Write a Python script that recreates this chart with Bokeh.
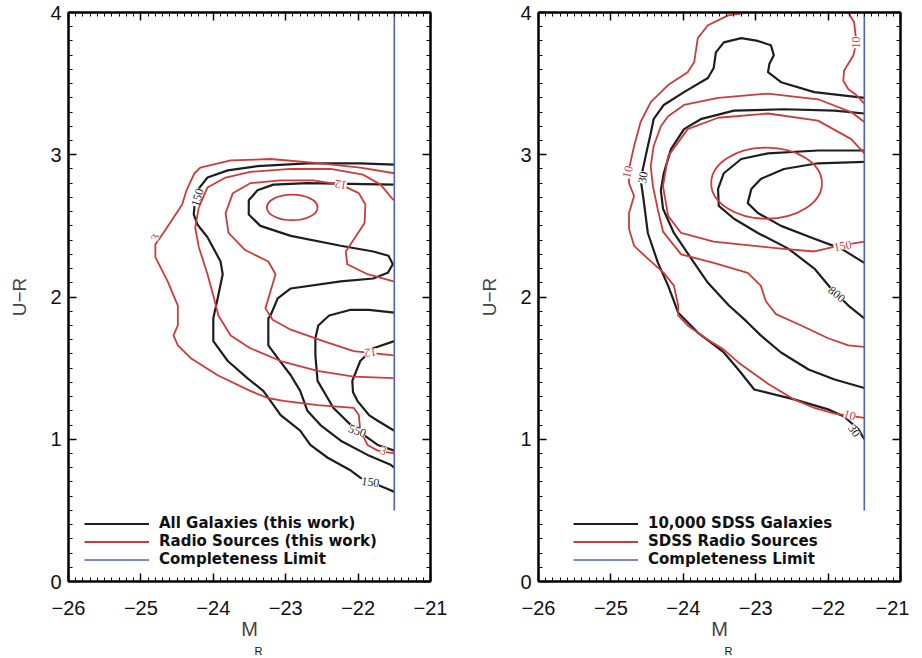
from bokeh.plotting import figure
from bokeh.models import (Range1d, LinearAxis, SingleIntervalTicker, Legend, LegendItem,
                          LabelSet, Title, ColumnDataSource, CustomLabelingPolicy)
from bokeh.layouts import row
from bokeh.embed import file_html
from bokeh.resources import INLINE

# ---------------- data: left panel (this work) ----------------
# all galaxies (black contours)
LG150_X = [-21.50,-21.97,-22.70,-23.39,-23.80,-24.08,-24.22,-24.25,-24.27,-24.22,-24.08,-23.90,-23.87,-23.94,-24.00,-24.00,-23.80,-23.53,-23.31,-23.21,-23.07,-22.80,-22.66,-22.42,-22.10,-21.97,-21.59,-21.50]
LG150_Y = [2.93,2.94,2.94,2.92,2.89,2.84,2.75,2.70,2.58,2.51,2.42,2.25,2.16,1.99,1.85,1.69,1.55,1.43,1.34,1.27,1.17,1.06,0.96,0.87,0.78,0.73,0.65,0.63]
LG350_X = [-21.51,-22.70,-23.17,-23.39,-23.51,-23.51,-23.35,-22.93,-22.24,-21.79,-21.58,-21.52,-21.59,-21.79,-22.24,-22.93,-23.11,-23.21,-23.24,-23.24,-23.11,-22.93,-22.80,-22.70,-22.52,-22.24,-21.87,-21.55,-21.50]
LG350_Y = [2.79,2.80,2.79,2.75,2.68,2.58,2.50,2.43,2.36,2.32,2.29,2.23,2.17,2.13,2.11,2.06,1.99,1.87,1.85,1.66,1.57,1.45,1.34,1.20,1.10,0.99,0.89,0.82,0.80]
LG550_X = [-21.50,-21.85,-22.10,-22.40,-22.55,-22.59,-22.59,-22.56,-22.34,-22.06,-21.73,-21.50]
LG550_Y = [1.89,1.91,1.91,1.87,1.80,1.71,1.59,1.41,1.22,1.08,0.96,0.92]
LG750_X = [-21.50,-21.79,-21.97,-22.08,-22.07,-22.01,-21.85,-21.73,-21.50]
LG750_Y = [1.69,1.64,1.55,1.41,1.33,1.27,1.17,1.13,1.06]
# radio sources (red contours)
LR3_X = [-21.50,-21.97,-22.52,-23.21,-23.76,-24.18,-24.26,-24.37,-24.43,-24.69,-24.80,-24.80,-24.63,-24.49,-24.49,-24.55,-24.49,-24.31,-23.94,-23.49,-23.25,-23.03,-22.56,-22.06,-21.99,-21.97,-21.87,-21.73,-21.50]
LR3_Y = [2.87,2.91,2.94,2.97,2.96,2.91,2.87,2.75,2.65,2.45,2.37,2.28,2.11,1.94,1.80,1.73,1.66,1.57,1.45,1.34,1.29,1.27,1.24,1.22,1.17,1.06,0.96,0.92,0.90]
LR6_X = [-21.51,-21.69,-21.93,-22.38,-22.93,-23.49,-23.83,-24.08,-24.20,-24.25,-24.20,-24.08,-24.00,-23.93,-23.76,-23.49,-23.07,-22.56,-22.06,-21.51]
LR6_Y = [2.68,2.79,2.86,2.90,2.90,2.88,2.84,2.77,2.63,2.49,2.35,2.16,2.01,1.87,1.73,1.64,1.55,1.48,1.44,1.43]
LR12_X = [-21.51,-21.87,-22.15,-22.17,-22.04,-21.91,-21.90,-21.99,-22.24,-22.62,-23.07,-23.49,-23.73,-23.83,-23.79,-23.56,-23.24,-23.14,-23.21,-23.28,-23.18,-22.93,-22.48,-22.06,-21.51]
LR12_Y = [2.11,2.16,2.23,2.32,2.42,2.52,2.65,2.73,2.79,2.82,2.82,2.80,2.73,2.59,2.45,2.33,2.25,2.16,2.04,1.92,1.84,1.77,1.69,1.62,1.59]
LR_PEAK = dict(x=[-22.91], y=[2.63], w=[0.70], h=[0.18])
# contour labels
LL_TEXT = ["150", "12", "3", "12", "550", "3", "150"]
LL_X = [-24.22, -22.24, -24.80, -21.83, -22.01, -21.65, -21.83]
LL_Y = [2.70, 2.79, 2.42, 1.61, 1.06, 0.92, 0.70]
LL_ANGLE = [72, 170, 70, 185, -20, -15, -8]
LL_KIND = ["g", "r", "r", "r", "g", "r", "g"]

# ---------------- data: right panel (SDSS) ----------------
RG30_X = [-21.50,-22.19,-22.65,-22.83,-22.81,-22.75,-22.79,-22.97,-23.20,-23.44,-23.55,-23.58,-23.66,-23.99,-24.27,-24.41,-24.45,-24.49,-24.55,-24.59,-24.55,-24.52,-24.49,-24.35,-24.21,-24.07,-23.80,-23.44,-23.24,-23.02,-22.47,-22.00,-21.78,-21.58,-21.50]
RG30_Y = [3.40,3.44,3.51,3.58,3.64,3.70,3.77,3.80,3.82,3.79,3.72,3.61,3.54,3.44,3.35,3.25,3.15,3.06,2.92,2.83,2.69,2.57,2.45,2.24,2.08,1.89,1.75,1.61,1.49,1.35,1.28,1.21,1.16,1.07,1.00]
RG150_X = [-21.50,-21.91,-22.61,-23.30,-23.76,-23.99,-24.17,-24.27,-24.31,-24.28,-24.13,-23.89,-23.66,-23.37,-23.13,-22.93,-22.65,-22.27,-21.91,-21.50]
RG150_Y = [3.29,3.31,3.32,3.31,3.25,3.18,3.04,2.87,2.75,2.62,2.45,2.27,2.10,1.94,1.83,1.73,1.61,1.49,1.42,1.36]
RG800_X = [-21.50,-22.14,-22.83,-23.20,-23.44,-23.52,-23.51,-23.30,-22.97,-22.55,-22.19,-21.96,-21.72,-21.50]
RG800_Y = [3.03,3.03,3.01,2.97,2.87,2.76,2.64,2.55,2.45,2.34,2.20,2.06,1.94,1.85]
RG1500_X = [-21.50,-22.14,-22.61,-22.93,-23.06,-23.11,-22.97,-22.65,-22.19,-21.82,-21.50]
RG1500_Y = [2.95,2.94,2.90,2.83,2.76,2.66,2.59,2.50,2.41,2.34,2.24]
RR10A_X = [-23.11,-23.38,-23.66,-23.80,-23.85,-23.94,-24.21,-24.45,-24.59,-24.68,-24.75,-24.75,-24.68,-24.75,-24.75,-24.68,-24.49,-24.27,-24.13,-24.07,-24.07,-23.94,-23.66,-23.44,-23.24,-22.83,-22.47,-22.19,-21.91,-21.50]
RR10A_Y = [4.00,3.98,3.91,3.82,3.65,3.58,3.49,3.37,3.23,3.06,2.90,2.80,2.71,2.59,2.48,2.36,2.27,2.17,2.08,1.94,1.87,1.80,1.70,1.63,1.54,1.39,1.28,1.22,1.18,1.15]
RR10B_X = [-21.72,-21.64,-21.61,-21.65,-21.78,-21.79,-21.72,-21.61,-21.50]
RR10B_Y = [4.00,3.93,3.79,3.70,3.59,3.52,3.46,3.42,3.36]
RR50_X = [-21.50,-21.68,-22.14,-22.83,-23.52,-23.99,-24.21,-24.31,-24.41,-24.45,-24.42,-24.35,-24.28,-24.03,-23.58,-23.11,-22.93,-22.86,-22.72,-22.37,-22.00,-21.72,-21.50]
RR50_Y = [3.23,3.30,3.39,3.43,3.40,3.35,3.27,3.20,3.06,2.92,2.78,2.61,2.46,2.30,2.24,2.17,2.08,1.97,1.88,1.80,1.71,1.66,1.65]
RR150_X = [-21.50,-21.68,-22.14,-22.83,-23.52,-23.94,-24.21,-24.28,-24.21,-24.03,-23.58,-22.65,-22.19,-21.86,-21.50]
RR150_Y = [3.01,3.11,3.24,3.29,3.26,3.18,2.99,2.78,2.57,2.45,2.39,2.34,2.32,2.36,2.39]
RR_PEAK = dict(x=[-22.85], y=[2.80], w=[1.53], h=[0.50])
RL_TEXT = ["10", "30", "10", "150", "800", "10", "30"]
RL_X = [-24.77, -24.56, -21.62, -21.80, -21.88, -21.70, -21.64]
RL_Y = [2.88, 2.84, 3.79, 2.36, 2.02, 1.17, 1.06]
RL_ANGLE = [75, 80, 90, 10, -40, -15, -55]
RL_KIND = ["r", "g", "r", "r", "g", "r", "g"]

# completeness limit
LIMIT_X = [-21.5, -21.5]
LIMIT_Y = [0.5, 4.0]

X_TICKS = [-26, -25, -24, -23, -22, -21]

BLACK = "#1e1e1e"
RED = "#cf3a3a"
BLUE = "#4f5fc4"
TICK_FONT = "Liberation Sans"


def style_ticks(ax):
    ax.axis_line_width = 2
    ax.major_tick_in = 8
    ax.major_tick_out = 0
    ax.minor_tick_in = 4
    ax.minor_tick_out = 0
    ax.major_tick_line_width = 1.5


def make_panel(gal, rad, peak, lab, legend_names, left_border, right_border, legend_x):
    p = figure(x_range=Range1d(-26, -21), y_range=Range1d(0, 4),
               frame_width=362, frame_height=569,
               min_border_left=left_border, min_border_right=right_border,
               min_border_top=12, min_border_bottom=60,
               output_backend="svg", toolbar_location=None)
    p.xgrid.visible = False
    p.ygrid.visible = False
    p.background_fill_color = "white"
    p.border_fill_color = "white"
    p.outline_line_color = "black"
    p.outline_line_width = 2

    for ax in (p.xaxis[0], p.yaxis[0]):
        style_ticks(ax)
        ax.major_label_text_font = TICK_FONT
        ax.major_label_text_font_size = "20px"
        ax.major_label_text_color = "#111111"
    p.xaxis[0].ticker = SingleIntervalTicker(interval=1, num_minor_ticks=10)
    p.yaxis[0].ticker = SingleIntervalTicker(interval=1, num_minor_ticks=10)
    p.xaxis[0].major_label_overrides = {t: "\u2212" + str(-t) for t in X_TICKS}
    p.xaxis[0].major_label_standoff = 19
    p.xaxis[0].axis_label = "M"
    p.xaxis[0].axis_label_text_font = TICK_FONT
    p.xaxis[0].axis_label_text_font_style = "normal"
    p.xaxis[0].axis_label_text_font_size = "20px"
    p.xaxis[0].axis_label_text_line_height = 1.0
    p.xaxis[0].axis_label_standoff = 0
    p.yaxis[0].major_label_standoff = 7
    p.yaxis[0].axis_label = "U\u2212R"
    p.yaxis[0].axis_label_text_font = TICK_FONT
    p.yaxis[0].axis_label_text_font_style = "normal"
    p.yaxis[0].axis_label_text_font_size = "19px"
    p.yaxis[0].axis_label_standoff = 17

    # subscript of the x-axis label
    sub = Title(text="R", align="left", offset=186, standoff=0,
                text_font=TICK_FONT, text_font_size="11px", text_font_style="normal",
                text_line_height=1.0, text_color="#111111")
    p.add_layout(sub, "below")

    # mirrored axes (ticks only, no labels)
    for place in ("above", "right"):
        ax = LinearAxis(ticker=SingleIntervalTicker(interval=1, num_minor_ticks=10),
                        major_label_policy=CustomLabelingPolicy(code="return new Set()"))
        style_ticks(ax)
        ax.major_label_standoff = 0
        p.add_layout(ax, place)

    gal_r = p.multi_line(xs=[g[0] for g in gal], ys=[g[1] for g in gal],
                         line_color=BLACK, line_width=2.2, line_join="round")
    rad_r = p.multi_line(xs=[r[0] for r in rad], ys=[r[1] for r in rad],
                         line_color=RED, line_width=1.8, line_join="round")
    p.ellipse(x=peak["x"], y=peak["y"], width=peak["w"], height=peak["h"],
              fill_color=None, line_color=RED, line_width=1.8)

    src = ColumnDataSource(dict(x=lab[1], y=lab[2], text=lab[0],
                                angle=lab[3],
                                color=[BLACK if k == "g" else RED for k in lab[4]]))
    p.add_layout(LabelSet(x="x", y="y", text="text", angle="angle", angle_units="deg",
                          text_color="color", source=src, text_font=TICK_FONT,
                          text_font_size="12px", text_align="center",
                          text_baseline="middle", background_fill_color="white",
                          background_fill_alpha=1.0))

    lim_r = p.line(x=LIMIT_X, y=LIMIT_Y, line_color=BLUE, line_width=1.6)

    legend = Legend(items=[LegendItem(label=legend_names[0], renderers=[gal_r]),
                           LegendItem(label=legend_names[1], renderers=[rad_r]),
                           LegendItem(label=legend_names[2], renderers=[lim_r])],
                    location=(legend_x, 13), orientation="vertical")
    legend.glyph_width = 65
    legend.glyph_height = 17
    legend.label_height = 17
    legend.spacing = 0
    legend.padding = 0
    legend.margin = 0
    legend.label_standoff = 10
    legend.border_line_color = None
    legend.background_fill_alpha = 0
    legend.label_text_font = "DejaVu Sans"
    legend.label_text_font_style = "bold"
    legend.label_text_font_size = "15px"
    legend.label_text_color = "#111111"
    p.add_layout(legend)
    return p


left = make_panel(
    gal=[(LG150_X, LG150_Y), (LG350_X, LG350_Y), (LG550_X, LG550_Y), (LG750_X, LG750_Y)],
    rad=[(LR3_X, LR3_Y), (LR6_X, LR6_Y), (LR12_X, LR12_Y)],
    peak=LR_PEAK,
    lab=(LL_TEXT, LL_X, LL_Y, LL_ANGLE, LL_KIND),
    legend_names=["All Galaxies (this work)", "Radio Sources (this work)", "Completeness Limit"],
    left_border=68, right_border=18, legend_x=16)

right_p = make_panel(
    gal=[(RG30_X, RG30_Y), (RG150_X, RG150_Y), (RG800_X, RG800_Y), (RG1500_X, RG1500_Y)],
    rad=[(RR10A_X, RR10A_Y), (RR10B_X, RR10B_Y), (RR50_X, RR50_Y), (RR150_X, RR150_Y)],
    peak=RR_PEAK,
    lab=(RL_TEXT, RL_X, RL_Y, RL_ANGLE, RL_KIND),
    legend_names=["10,000 SDSS Galaxies", "SDSS Radio Sources", "Completeness Limit"],
    left_border=90, right_border=6, legend_x=35)

layout = row(left, right_p, spacing=0)
open("out.html", "w").write(file_html(layout, INLINE))
